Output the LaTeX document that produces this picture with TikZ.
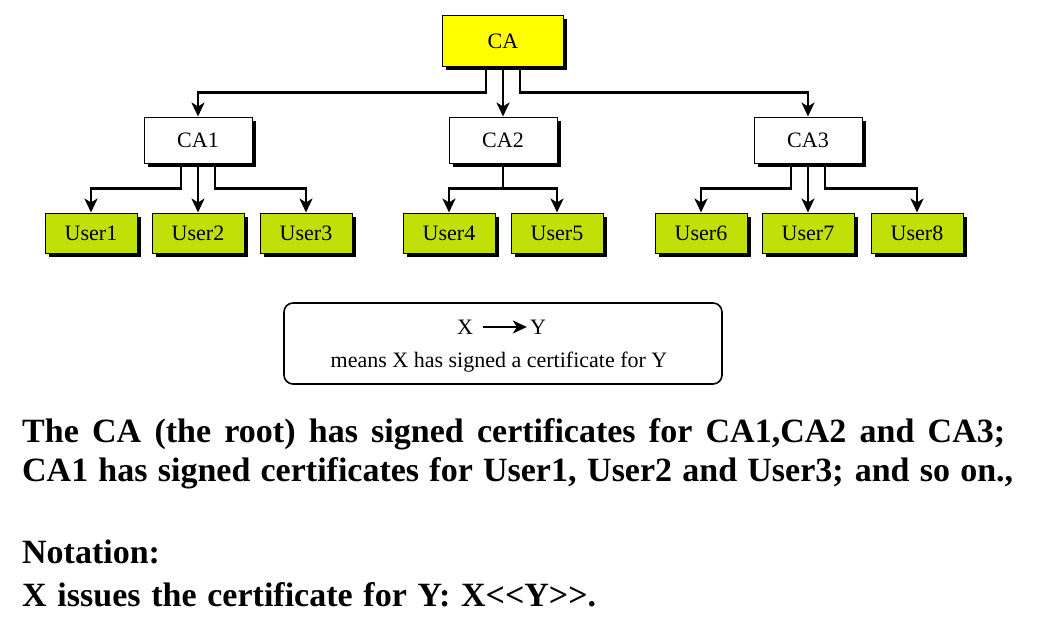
\documentclass[tikz,border=0pt]{standalone}
\usepackage{fontspec}
\setmainfont{Liberation Serif}
\usepackage{tikz}
\usetikzlibrary{positioning,shadows,arrows.meta}

\definecolor{rootyellow}{RGB}{255,255,0}
\definecolor{usergreen}{RGB}{192,224,8}

\tikzset{
    box/.style={draw=black,line width=1pt,inner sep=0pt,
        font=\fontsize{22}{26}\selectfont,
        drop shadow={shadow xshift=3.5pt,shadow yshift=-3.5pt,opacity=1,fill=black}},
    rootbox/.style={box,fill=rootyellow,minimum width=121pt,minimum height=51pt},
    cabox/.style={box,fill=white,minimum width=108pt,minimum height=46pt},
    userbox/.style={box,fill=usergreen,minimum width=92pt,minimum height=40pt},
    link/.style={line width=2.8pt,-{Stealth[length=14pt,width=13pt,inset=4pt]}},
    legendtext/.style={inner sep=0pt,font=\fontsize{22}{26}\selectfont},
    textline/.style={anchor=base west,inner sep=0pt,font=\bfseries\fontsize{34}{40}\selectfont}
}

\begin{document}
\begin{tikzpicture}[x=1pt,y=-1pt]
        \useasboundingbox (0,0) rectangle (1039,618);

        % Root and intermediate CAs
        \node[rootbox] (ca) at (503,41.5) {CA};
        \node[cabox] (ca1) at (198,140) {CA1};
        \node[cabox] (ca2) at (503,140) {CA2};
        \node[cabox] (ca3) at (808,140) {CA3};

        % Users
        \foreach \i/\x in {1/91, 2/198, 3/306, 4/449, 5/557, 6/701, 7/808, 8/917} {
            \node[userbox] (u\i) at (\x,233) {User\i};
        }

        % CA -> CA1, CA2, CA3
        \draw[link] ([xshift=-17pt]ca.south) -- ++(0,25) -| (ca1.north);
        \draw[link] (ca.south) -- (ca2.north);
        \draw[link] ([xshift=17pt]ca.south) -- ++(0,25) -| (ca3.north);

        % CA1 -> User1..3
        \draw[link] ([xshift=-17pt]ca1.south) -- ++(0,25) -| (u1.north);
        \draw[link] (ca1.south) -- (u2.north);
        \draw[link] ([xshift=17pt]ca1.south) -- ++(0,25) -| (u3.north);

        % CA2 -> User4, User5
        \draw[link] (ca2.south) -- ++(0,25) -| (u4.north);
        \draw[link] (ca2.south) -- ++(0,25) -| (u5.north);

        % CA3 -> User6..8
        \draw[link] ([xshift=-17pt]ca3.south) -- ++(0,25) -| (u6.north);
        \draw[link] (ca3.south) -- (u7.north);
        \draw[link] ([xshift=17pt]ca3.south) -- ++(0,25) -| (u8.north);

        % Legend
        \node[draw,line width=1.6pt,rounded corners=9pt,minimum width=438pt,minimum height=81pt] (legend) at (503,343.5) {};
        \node[legendtext] (lx) at (465,327) {X};
        \node[legendtext] (ly) at (538,327) {Y};
        \draw[link,line width=1.8pt,shorten <=10pt,shorten >=3pt] (lx) -- (ly);
        \node[legendtext] (means) at (499,362) {means X has signed a certificate for Y};

        % Explanation
        \node[textline] (t1) at (22,442) {\makebox[983pt][s]{The CA (the root) has signed certificates for CA1,CA2 and CA3;}};
        \node[textline] (t2) at (22,481) {\makebox[991pt][s]{CA1 has signed certificates for User1, User2 and User3; and so on.,}};
        \node[textline] (t3) at (22,563) {Notation:};
        \node[textline] (t4) at (22,606) {\makebox[574pt][s]{X issues the certificate for Y: X<{}<Y>{}>.}};
\end{tikzpicture}
\end{document}
